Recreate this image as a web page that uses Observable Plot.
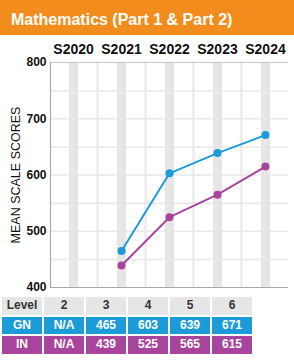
<!DOCTYPE html>
<html>
<head>
<meta charset="utf-8">
<script src="https://cdn.jsdelivr.net/npm/d3@7"></script>
<script src="https://cdn.jsdelivr.net/npm/@observablehq/plot@0.6"></script>
<style>
  body { margin: 0; background: #fff; font-family: "Liberation Sans", Arial, sans-serif; width: 294px; }
  #title { height: 35px; background: #f28d1d; color: #fff; font-weight: bold; font-size: 16px;
           box-sizing: border-box; padding: 11px 0 0 11px; white-space: nowrap; }
  #chart svg { display: block; }
  table { border-collapse: separate; border-spacing: 2px; margin-top: 0; margin-left: 0; }
  td { width: 40px; height: 17.5px; padding: 0; text-align: center; font-size: 12px; font-weight: bold; line-height: 17px; }
  tr.head td { background: #e6e6e6; color: #333; }
</style>
</head>
<body>
<div id="title"></div>
<div id="chart"></div>
<div id="table"></div>
<script>
const titleText = "Mathematics (Part 1 & Part 2)";
const yLabel = "MEAN SCALE SCORES";
const years = [2020, 2021, 2022, 2023, 2024];
const levels = ["2", "3", "4", "5", "6"];
const seriesNames = ["GN", "IN"];
const gnScores = [null, 465, 603, 639, 671];
const inScores = [null, 439, 525, 565, 615];
const yTicks = [400, 500, 600, 700, 800];
const yGrid = [450, 500, 550, 600, 650, 700, 750];

const colors = { GN: "#1b9cd8", IN: "#a8449b" };

document.getElementById("title").textContent = titleText;

const scoreLists = { GN: gnScores, IN: inScores };
const data = seriesNames.flatMap(s =>
  years.map((yr, i) => ({ series: s, year: yr, score: scoreLists[s][i] }))
).filter(d => d.score != null);

const pad = 0.48;
const xDomain = [years[0] - pad, years[years.length - 1] + pad];
const mids = d3.pairs(years, (a, b) => (a + b) / 2);

const chart = Plot.plot({
  width: 294,
  height: 260,
  marginLeft: 50,
  marginRight: 6,
  marginTop: 27,
  marginBottom: 8,
  style: { fontFamily: "'Liberation Sans', Arial, sans-serif", background: "transparent", color: "#111" },
  x: { type: "linear", domain: xDomain, axis: null },
  y: { domain: [400, 800], axis: null },
  color: { domain: seriesNames, range: seriesNames.map(s => colors[s]) },
  marks: [
    Plot.ruleY(yGrid, { stroke: "#e8e8e8", strokeWidth: 1.5 }),
    Plot.ruleX(mids, { stroke: "#e8e8e8", strokeWidth: 2 }),
    Plot.ruleX(years, { stroke: "#e6e6e6", strokeWidth: 9 }),
    Plot.ruleY([800], { stroke: "#c8c8c8", strokeWidth: 1 }),
    Plot.ruleY([400], { stroke: "#a8a8a8", strokeWidth: 1.2 }),
    Plot.ruleX([xDomain[0]], { stroke: "#a8a8a8", strokeWidth: 1.2 }),
    Plot.axisX(years, { anchor: "top", tickSize: 0, tickPadding: 9, tickFormat: d => "S" + d,
      fontSize: 14, fontWeight: "bold", label: null }),
    Plot.axisY(yTicks, { anchor: "left", tickSize: 0, tickPadding: 4, fontSize: 12, fontWeight: "bold", label: null }),
    Plot.text([yLabel], { frameAnchor: "left", textAnchor: "middle", rotate: -90, dx: -35, fontSize: 12.5, fill: "#111" }),
    Plot.line(data, { x: "year", y: "score", z: "series", stroke: "series", strokeWidth: 2 }),
    Plot.dot(data, { x: "year", y: "score", fill: "series", r: 4 })
  ]
});
document.getElementById("chart").appendChild(chart);

// table
const table = document.createElement("table");
const head = document.createElement("tr");
head.className = "head";
["Level", ...levels].forEach(t => {
  const td = document.createElement("td"); td.textContent = t; head.appendChild(td);
});
table.appendChild(head);
seriesNames.forEach(s => {
  const tr = document.createElement("tr");
  [s, ...scoreLists[s].map(v => v == null ? "N/A" : String(v))].forEach(t => {
    const td = document.createElement("td");
    td.textContent = t;
    td.style.background = colors[s];
    td.style.color = "#fff";
    tr.appendChild(td);
  });
  table.appendChild(tr);
});
document.getElementById("table").appendChild(table);
</script>
</body>
</html>
